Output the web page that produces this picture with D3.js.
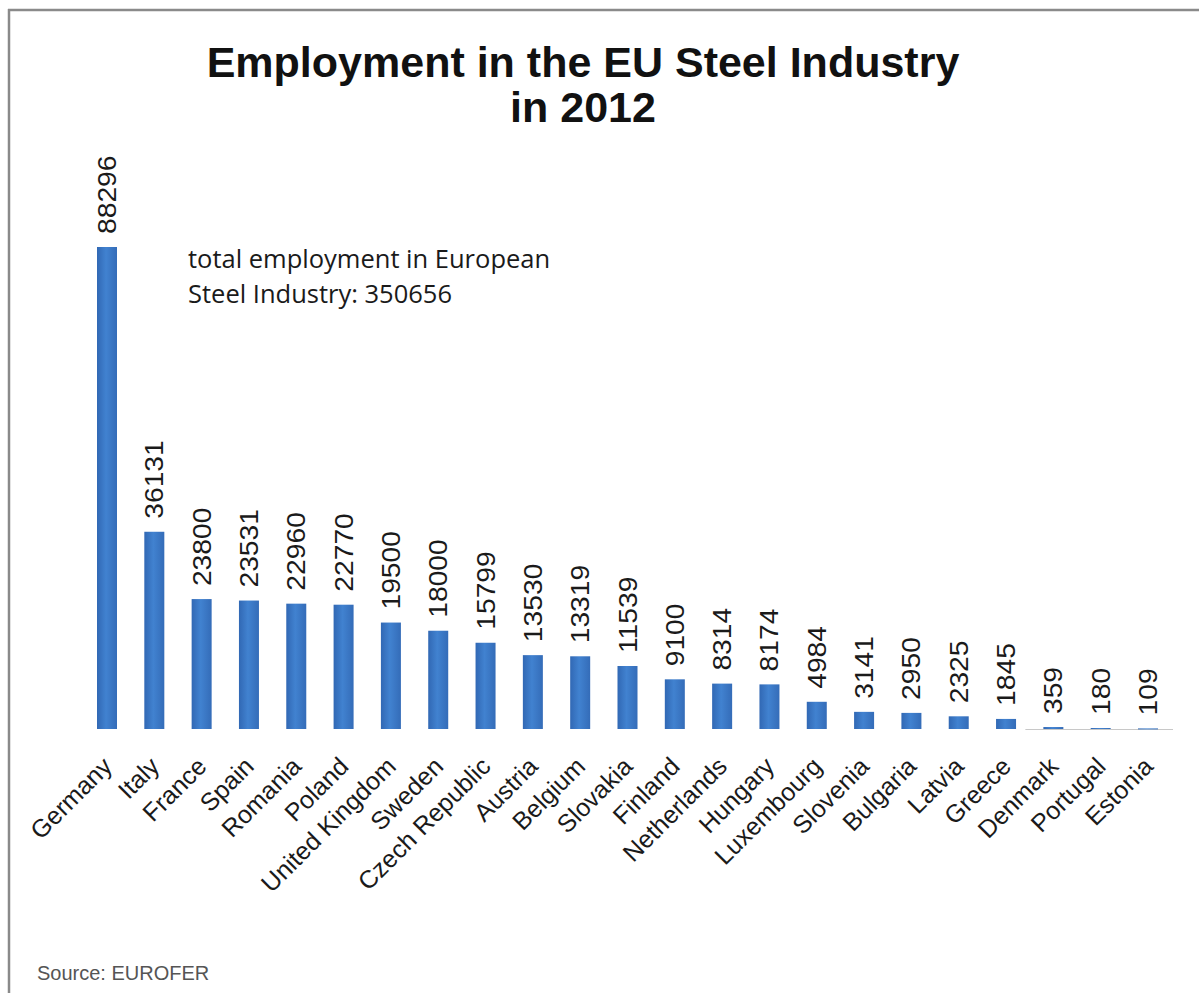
<!DOCTYPE html>
<html>
<head>
<meta charset="utf-8">
<script src="https://cdn.jsdelivr.net/npm/d3@7"></script>
<style>
  body { margin: 0; background: #fff; }
  svg { display: block; }
</style>
</head>
<body>
<script>
// Steel industry employment by EU member state, 2012
const countries = ["Germany", "Italy", "France", "Spain", "Romania", "Poland",
  "United Kingdom", "Sweden", "Czech Republic", "Austria", "Belgium", "Slovakia",
  "Finland", "Netherlands", "Hungary", "Luxembourg", "Slovenia", "Bulgaria",
  "Latvia", "Greece", "Denmark", "Portugal", "Estonia"];
const employment = [88296, 36131, 23800, 23531, 22960, 22770, 19500, 18000,
  15799, 13530, 13319, 11539, 9100, 8314, 8174, 4984, 3141, 2950, 2325, 1845,
  359, 180, 109];
const titleLines = ["Employment in the EU Steel Industry", "in 2012"];
const noteLines = ["total employment in European", "Steel Industry: 350656"];
const sourceText = "Source: EUROFER";

const W = 1199, H = 993;
const svg = d3.select("body").append("svg").attr("width", W).attr("height", H);

// frame edges (top and left)
svg.append("rect").attr("x", 0).attr("y", 0).attr("width", W).attr("height", H).attr("fill", "#fff");
svg.append("line").attr("x1", 8).attr("x2", W).attr("y1", 10).attr("y2", 10)
  .attr("stroke", "#8a8a8a").attr("stroke-width", 2.5);
svg.append("line").attr("x1", 9).attr("x2", 9).attr("y1", 9).attr("y2", H)
  .attr("stroke", "#8a8a8a").attr("stroke-width", 2.5);

const x = d3.scalePoint().domain(countries).range([107, 1148]);
const y = d3.scaleLinear().domain([0, d3.max(employment)]).range([729, 247]);
const barW = 20;

const data = countries.map((c, i) => ({ country: c, value: employment[i] }));

// bar shading
const defs = svg.append("defs");
const grad = defs.append("linearGradient").attr("id", "barFill")
  .attr("x1", "0%").attr("x2", "100%").attr("y1", "0%").attr("y2", "0%");
grad.append("stop").attr("offset", "0%").attr("stop-color", "#3168b4");
grad.append("stop").attr("offset", "45%").attr("stop-color", "#4182d0");
grad.append("stop").attr("offset", "100%").attr("stop-color", "#346cb8");

// faint baseline under the smallest bars
const tail = countries.slice(-3);
svg.append("line")
  .attr("x1", x(tail[0]) - 28).attr("x2", x(tail[2]) + 25)
  .attr("y1", y(0) + 0.5).attr("y2", y(0) + 0.5)
  .attr("stroke", "#c8c8c8").attr("stroke-width", 1);

svg.append("g").selectAll("rect").data(data).join("rect")
  .attr("x", d => x(d.country) - barW / 2)
  .attr("y", d => y(d.value))
  .attr("width", barW)
  .attr("height", d => Math.max(1, y(0) - y(d.value)))
  .attr("fill", "url(#barFill)");

// value labels above each bar
svg.append("g").selectAll("text").data(data).join("text")
  .attr("transform", d => `translate(${x(d.country) + 9},${y(d.value) - 13}) rotate(-90) scale(1.13,1)`)
  .attr("font-family", "Liberation Sans, Arial, sans-serif")
  .attr("font-size", 25)
  .attr("fill", "#1a1a1a")
  .text(d => d.value);

// category axis
const xAxis = d3.axisBottom(x).tickSize(0).tickPadding(0);
const gx = svg.append("g").attr("transform", `translate(0,${y(0)})`).call(xAxis);
gx.select(".domain").remove();
gx.selectAll(".tick text")
  .attr("font-family", "Liberation Sans, Arial, sans-serif")
  .attr("font-size", 25)
  .attr("fill", "#1a1a1a")
  .attr("text-anchor", "end")
  .attr("dy", 0)
  .attr("y", 0)
  .attr("transform", "translate(6,39) rotate(-45)");

// title
svg.append("g").selectAll("text").data(titleLines).join("text")
  .attr("x", 583)
  .attr("y", (d, i) => 77 + i * 45)
  .attr("text-anchor", "middle")
  .attr("font-family", "Liberation Sans, Arial, sans-serif")
  .attr("font-weight", "bold")
  .attr("font-size", 43)
  .attr("fill", "#111")
  .text(d => d);

// total annotation
svg.append("g").selectAll("text").data(noteLines).join("text")
  .attr("x", 188)
  .attr("y", (d, i) => 268 + i * 35)
  .attr("font-family", "Open Sans, Noto Sans, sans-serif")
  .attr("font-size", 25.5)
  .attr("fill", "#1a1a1a")
  .text(d => d);

// source
svg.append("text")
  .attr("x", 37).attr("y", 980)
  .attr("font-family", "Liberation Sans, Arial, sans-serif")
  .attr("font-size", 20)
  .attr("fill", "#555")
  .text(sourceText);
</script>
</body>
</html>
